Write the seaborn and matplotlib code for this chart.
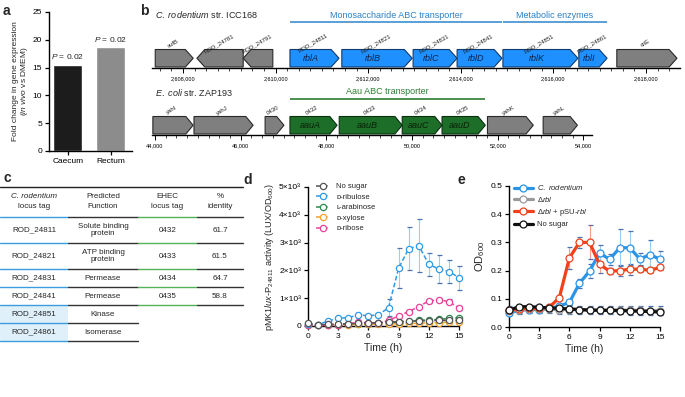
import numpy as np
import pandas as pd
import matplotlib
matplotlib.use("Agg")
import matplotlib.pyplot as plt
from matplotlib.patches import Polygon, Rectangle
from matplotlib.ticker import MultipleLocator, FuncFormatter
import seaborn as sns

# ------------------------------------------------------------------ data
# panel a
tissues = ["Caecum", "Rectum"]
fold_change = [15.5, 18.7]
p_values = ["0.02", "0.02"]

# panel b - C. rodentium locus
crod_tags = ["sufB", "ROD_24781", "ROD_24791", "ROD_24811", "ROD_24821",
             "ROD_24831", "ROD_24841", "ROD_24851", "ROD_24861", "citE"]
crod_names = ["", "", "", "rblA", "rblB", "rblC", "rblD", "rblK", "rblI", ""]
crod_start = [2607400, 2608300, 2609300, 2610310, 2611430,
              2612970, 2613920, 2614910, 2616550, 2617370]
crod_end = [2608220, 2609300, 2609940, 2611370, 2612950,
            2613920, 2614890, 2616530, 2617160, 2618670]
crod_strand = [1, -1, -1, 1, 1, 1, 1, 1, 1, 1]
crod_operons = ["Monosaccharide ABC transporter", "Metabolic enzymes"]
crod_operon_genes = [(3, 6), (7, 8)]

# panel b - E. coli locus
ecoli_tags = ["yahI", "yahJ", "0430", "0432", "0433", "0434", "0435", "yahK", "yahL"]
ecoli_names = ["", "", "", "aauA", "aauB", "aauC", "aauD", "", ""]
ecoli_start = [43950, 44910, 46570, 47150, 48300, 49770, 50700, 51760, 53060]
ecoli_end = [44890, 46290, 47010, 48250, 49770, 50700, 51710, 52830, 53860]
ecoli_strand = [1, 1, 1, 1, 1, 1, 1, 1, 1]
ecoli_operons = ["Aau ABC transporter"]
ecoli_operon_genes = [(3, 6)]

# panel c - table
c_headers = [("C. rodentium", "locus tag"), ("Predicted", "Function"),
             ("EHEC", "locus tag"), ("%", "identity")]
c_tags = ["ROD_24811", "ROD_24821", "ROD_24831", "ROD_24841", "ROD_24851", "ROD_24861"]
c_function = ["Solute binding\nprotein", "ATP binding\nprotein", "Permease",
              "Permease", "Kinase", "Isomerase"]
c_ehec = ["0432", "0433", "0434", "0435", "", ""]
c_identity = ["61.7", "61.5", "64.7", "58.8", "", ""]

# panel d
hours = list(range(16))
d_series = ["No sugar", "\u1d05-ribulose", "\u029f-arabinose", "\u1d05-xylose", "\u1d05-ribose"]
d_nosugar = [90, 40, 60, 70, 80, 90, 110, 120, 140, 160, 170, 180, 190, 200, 200, 210]
d_ribulose = [70, 50, 180, 280, 300, 400, 370, 400, 660, 2080, 2780, 2890, 2220, 2050, 1960, 1740]
d_ribulose_err = [0, 0, 0, 0, 0, 0, 0, 0, 300, 720, 780, 950, 420, 520, 400, 430]
d_arabinose = [30, 30, 40, 50, 60, 80, 80, 90, 120, 140, 160, 210, 220, 240, 270, 300]
d_xylose = [20, 20, 30, 40, 50, 60, 60, 70, 80, 80, 90, 100, 110, 120, 140, 150]
d_ribose = [20, 20, 30, 50, 70, 150, 110, 120, 200, 360, 520, 700, 900, 940, 880, 640]
d_ribose_err = [0, 0, 0, 0, 0, 0, 0, 0, 0, 50, 50, 60, 80, 80, 100, 80]

# panel e
e_series = ["C. rodentium", "\u0394rbl", "\u0394rbl + pSU-rbl", "No sugar"]
e_crod = [0.050, 0.059, 0.062, 0.062, 0.066, 0.074, 0.087, 0.155, 0.198, 0.262,
          0.240, 0.281, 0.281, 0.241, 0.257, 0.240]
e_crod_err = [0.005, 0.008, 0.008, 0.008, 0.008, 0.010, 0.010, 0.015, 0.025, 0.030,
              0.020, 0.065, 0.060, 0.020, 0.050, 0.030]
e_drbl = [0.058, 0.062, 0.063, 0.064, 0.063, 0.062, 0.062, 0.061, 0.060, 0.060,
          0.060, 0.060, 0.059, 0.059, 0.058, 0.058]
e_drbl_err = [0.015] * 16
e_comp = [0.060, 0.065, 0.066, 0.066, 0.070, 0.104, 0.245, 0.300, 0.300, 0.222,
          0.198, 0.200, 0.205, 0.205, 0.201, 0.211]
e_comp_err = [0.005, 0.005, 0.005, 0.005, 0.005, 0.010, 0.040, 0.020, 0.060, 0.030,
              0.010, 0.020, 0.020, 0.010, 0.010, 0.010]
e_nosugar = [0.060, 0.072, 0.072, 0.070, 0.068, 0.066, 0.064, 0.062, 0.060, 0.059,
             0.059, 0.058, 0.057, 0.056, 0.055, 0.053]

# ------------------------------------------------------------------ style
sns.set_theme(style="ticks")
plt.rcParams["font.family"] = ["Liberation Sans", "DejaVu Sans"]
plt.rcParams["mathtext.fontset"] = "custom"
plt.rcParams["mathtext.rm"] = "Liberation Sans"
plt.rcParams["mathtext.it"] = "Liberation Sans:italic"
plt.rcParams["mathtext.bf"] = "Liberation Sans:bold"
plt.rcParams["axes.linewidth"] = 1.0
plt.rcParams["axes.edgecolor"] = "black"

W, H = 685, 397
fig = plt.figure(figsize=(W / 100, H / 100), dpi=100)


def px_axes(x0, y0, x1, y1):
    return fig.add_axes([x0 / W, 1 - y1 / H, (x1 - x0) / W, (y1 - y0) / H])


def style_ticks(ax, size=6):
    ax.tick_params(axis="both", direction="out", length=3, width=0.9,
                   labelsize=size, pad=2, colors="black")


# panel letters
for lab, x, y in [("a", 3, 11), ("b", 140, 11), ("c", 3, 178), ("d", 243, 180), ("e", 458, 180)]:
    fig.text(x / W, 1 - y / H, lab, fontsize=10, fontweight="bold", ha="left", va="center")

# ------------------------------------------------------------------ panel a
ax_a = px_axes(49, 12, 132, 151)
sns.barplot(x=tissues, y=fold_change, hue=tissues, palette=["#1c1c1c", "#8c8c8c"],
            legend=False, saturation=1, width=0.68, ax=ax_a)
ax_a.set_xlim(-0.44, 1.5)
ax_a.set_ylim(0, 25)
ax_a.set_yticks(range(0, 26, 5))
for i, (v, p) in enumerate(zip(fold_change, p_values)):
    ax_a.text(i, v + 0.6, r"$\mathit{P}$ = " + p, ha="center", va="bottom", fontsize=6)
ax_a.set_ylabel("Fold change in gene expression\n" + r"($\mathit{in\ vivo}$ vs DMEM)",
                fontsize=6.0, labelpad=4, linespacing=1.05)
ax_a.yaxis.set_label_coords(-0.23, 0.5)
ax_a.set_xlabel("")
sns.despine(ax=ax_a)
style_ticks(ax_a)

# ------------------------------------------------------------------ panel b


def draw_track(ax, starts, ends, strands, tags, names, tip, fill_map, name_color):
    y0, y1 = 1.0, 18.5
    ym = (y0 + y1) / 2
    for s, e, st, tag, nm in zip(starts, ends, strands, tags, names):
        fc, ec = fill_map[bool(nm)]
        if st > 0:
            pts = [(s, y0), (e - tip, y0), (e, ym), (e - tip, y1), (s, y1)]
            body_c = (s + e - tip) / 2
        else:
            pts = [(e, y0), (s + tip, y0), (s, ym), (s + tip, y1), (e, y1)]
            body_c = (s + tip + e) / 2
        ax.add_patch(Polygon(pts, closed=True, facecolor=fc, edgecolor=ec, lw=0.8))
        if nm:
            ax.text(body_c, ym, nm, ha="center", va="center", fontsize=6.5,
                    fontstyle="italic", color=name_color)
        ax.text((s + e) / 2, y1 + 4.0, tag, ha="center", va="bottom", fontsize=4.3,
                rotation=30, rotation_mode="anchor", color="#222222")


def style_track(ax, xlim, ylim):
    ax.set_xlim(*xlim)
    ax.set_ylim(*ylim)
    for sp in ["top", "left", "right"]:
        ax.spines[sp].set_visible(False)
    ax.spines["bottom"].set_linewidth(1.0)
    ax.set_yticks([])
    ax.xaxis.set_major_locator(MultipleLocator(2000))
    ax.xaxis.set_minor_locator(MultipleLocator(250))
    ax.xaxis.set_major_formatter(FuncFormatter(lambda v, p: f"{int(round(v)):,}"))
    ax.tick_params(axis="x", which="major", length=3.5, width=0.7, labelsize=4.0,
                   pad=2.5, direction="out", colors="black")
    ax.tick_params(axis="x", which="minor", length=2.2, width=0.6, direction="out")
    ax.patch.set_alpha(0)


# top track
ax_b1 = px_axes(152, 5, 680, 68)
draw_track(ax_b1, crod_start, crod_end, crod_strand, crod_tags, crod_names, 170,
           {False: ("#7f7f7f", "#2a2a2a"), True: ("#1e90ff", "#123a6b")}, "#0d2450")
style_track(ax_b1, (2607330, 2618735), (0, 63))
for label, (g0, g1) in zip(crod_operons, crod_operon_genes):
    xs0, xs1 = crod_start[g0], crod_end[g1]
    ax_b1.plot([xs0, xs1], [46, 46], color="#3d8fd1", lw=1.2, solid_capstyle="butt")
    ax_b1.text((xs0 + xs1) / 2, 48.5, label, ha="center", va="bottom", fontsize=6.5,
               color="#2b80c6")
ax_b1.text(2607400, 53, r"$\mathit{C.\ rodentium}$ str. ICC168", ha="left", va="center",
           fontsize=6.5)

# bottom track
ax_b2 = px_axes(152, 80, 592, 135)
draw_track(ax_b2, ecoli_start, ecoli_end, ecoli_strand, ecoli_tags, ecoli_names, 170,
           {False: ("#7f7f7f", "#2a2a2a"), True: ("#1d6e28", "#0b3010")}, "#0a200a")
style_track(ax_b2, (43930, 54200), (0, 55))
for label, (g0, g1) in zip(ecoli_operons, ecoli_operon_genes):
    xs0, xs1 = ecoli_start[g0], ecoli_end[g1]
    ax_b2.plot([xs0, xs1], [36, 36], color="#2e7d32", lw=1.2, solid_capstyle="butt")
    ax_b2.text((xs0 + xs1) / 2, 38.5, label, ha="center", va="bottom", fontsize=6.5,
               color="#2e7d32")
ax_b2.text(44000, 43, r"$\mathit{E.\ coli}$ str. ZAP193", ha="left", va="center", fontsize=6.5)

# ------------------------------------------------------------------ panel c (table)
ax_c = px_axes(0, 183, 245, 347)
ax_c.set_xlim(0, 245)
ax_c.set_ylim(347, 183)
ax_c.axis("off")
col_bounds = [0, 68, 138, 197, 243]
col_centers = [(a + b) / 2 for a, b in zip(col_bounds[:-1], col_bounds[1:])]
line_cols = ["#3d9be0", "#333333", "#52b35a", "#333333"]
ax_c.plot([col_bounds[0], col_bounds[-1]], [187, 187], color="#222222", lw=1.0)
for j, (h1, h2) in enumerate(c_headers):
    ax_c.text(col_centers[j], 196.5, h1, ha="center", va="center", fontsize=5.8,
              fontstyle="italic" if j == 0 else "normal")
    ax_c.text(col_centers[j], 207, h2, ha="center", va="center", fontsize=5.8)
header_bottom = 217
for j in range(4):
    ax_c.plot([col_bounds[j], col_bounds[j + 1]], [header_bottom] * 2, color=line_cols[j], lw=1.0)
y = header_bottom
for i, (tag, fn, eh, idn) in enumerate(zip(c_tags, c_function, c_ehec, c_identity)):
    h = 26 if "\n" in fn else 18
    yc = y + h / 2
    ncols = 4 if eh else 2
    if not eh:
        ax_c.add_patch(Rectangle((col_bounds[0], y), col_bounds[1] - col_bounds[0], h,
                                 facecolor="#dff0fb", edgecolor="none"))
    for j, val in enumerate([tag, fn, eh, idn][:ncols]):
        ax_c.text(col_centers[j], yc, val, ha="center", va="center", fontsize=5.8,
                  linespacing=1.15)
    for j in range(ncols):
        ax_c.plot([col_bounds[j], col_bounds[j + 1]], [y + h] * 2, color=line_cols[j], lw=1.0)
    y += h

# ------------------------------------------------------------------ panel d
ax_d = px_axes(308, 187, 459, 326)
d_colors = ["#555555", "#2f9be6", "#2a8a4e", "#f2a22e", "#e8439a"]
d_err_colors = ["#aaaaaa", "#9fcdf0", "#9fd0ae", "#f8d09a", "#f3a6cb"]
d_vals = [d_nosugar, d_ribulose, d_arabinose, d_xylose, d_ribose]
d_errs = [None, d_ribulose_err, None, None, d_ribose_err]
draw_order = [2, 3, 4, 1, 0]
for k in draw_order:
    if d_errs[k] is not None:
        ax_d.errorbar(hours, d_vals[k], yerr=d_errs[k], fmt="none", ecolor=d_err_colors[k],
                      elinewidth=0.8, capsize=1.8, capthick=0.8, zorder=1, clip_on=False)
for k in draw_order:
    sns.lineplot(x=hours, y=d_vals[k], color=d_colors[k], ax=ax_d, label=d_series[k],
                 marker="o", markersize=4.5, linestyle=(0, (3, 1.6)), lw=1.1,
                 zorder=3, clip_on=False)
for ln in ax_d.lines:
    ln.set_markerfacecolor("white")
    ln.set_markeredgecolor(ln.get_color())
    ln.set_markeredgewidth(0.9)
ax_d.set_xlim(0, 15)
ax_d.set_ylim(0, 5000)
ax_d.set_xticks(range(0, 16, 3))
ax_d.set_yticks(range(0, 5001, 1000))
ax_d.set_yticklabels(["0"] + [f"{i}\u00d710\u00b3" for i in range(1, 6)])
ax_d.set_xlabel("Time (h)", fontsize=7.5, labelpad=2)
ax_d.set_ylabel(r"pMK1$\mathit{lux}$-P$_{24811}$ activity (LUX/OD$_{600}$)", fontsize=6.6, labelpad=2)
sns.despine(ax=ax_d)
style_ticks(ax_d)
h_l, l_l = ax_d.get_legend_handles_labels()
hd = dict(zip(l_l, h_l))
ax_d.legend([hd[s] for s in d_series], d_series, loc="upper left",
            bbox_to_anchor=(0.055, 1.03), frameon=False, fontsize=5.5, handlelength=1.7,
            handletextpad=0.9, labelspacing=0.42, borderpad=0, borderaxespad=0)

# ------------------------------------------------------------------ panel e
ax_e = px_axes(509, 186, 660, 327)
e_colors = ["#2a94e6", "#9a9a9a", "#f0401c", "#111111"]
e_err_colors = ["#9ccbf0", "#cccccc", "#f5a08c", "#999999"]
e_vals = [e_crod, e_drbl, e_comp, e_nosugar]
e_errs = [e_crod_err, e_drbl_err, e_comp_err, None]
e_order = [1, 2, 0, 3]
for k in e_order:
    if e_errs[k] is not None:
        ax_e.errorbar(hours, e_vals[k], yerr=e_errs[k], fmt="none", ecolor=e_err_colors[k],
                      elinewidth=0.8, capsize=1.8, capthick=0.8, zorder=1, clip_on=False)
for k in e_order:
    sns.lineplot(x=hours, y=e_vals[k], color=e_colors[k], ax=ax_e, label=e_series[k],
                 marker="o", markersize=5, lw=2.3, zorder=3 + k, clip_on=False)
for ln in ax_e.lines:
    ln.set_markerfacecolor("white")
    ln.set_markeredgecolor(ln.get_color())
    ln.set_markeredgewidth(0.9)
ax_e.set_xlim(0, 15)
ax_e.set_ylim(0, 0.5)
ax_e.set_xticks(range(0, 16, 3))
ax_e.set_yticks(np.arange(0, 0.51, 0.1))
ax_e.set_yticklabels([f"{v:.1f}" for v in np.arange(0, 0.51, 0.1)])
ax_e.set_xlabel("Time (h)", fontsize=7.5, labelpad=2)
ax_e.set_ylabel(r"OD$_{600}$", fontsize=8, labelpad=2)
sns.despine(ax=ax_e)
style_ticks(ax_e)
h_l, l_l = ax_e.get_legend_handles_labels()
he = dict(zip(l_l, h_l))
e_labels = [r"$\mathit{C.\ rodentium}$", r"$\Delta\mathit{rbl}$",
            r"$\Delta\mathit{rbl}$ + pSU-$\mathit{rbl}$", "No sugar"]
ax_e.legend([he[s] for s in e_series], e_labels, loc="upper left",
            bbox_to_anchor=(0.035, 1.02), frameon=False, fontsize=5.5, handlelength=2.4,
            handletextpad=0.6, labelspacing=0.38, borderpad=0, borderaxespad=0)

fig.savefig("out.png", dpi=100)
